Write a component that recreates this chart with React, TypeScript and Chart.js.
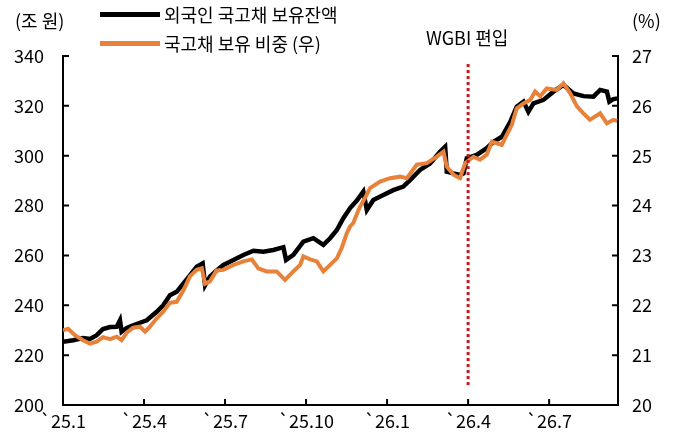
import { useEffect, useRef } from "react";
import { Chart, registerables } from "chart.js";

Chart.register(...registerables);

// x positions are months since Jan 2025 (0 = `25.1)
const tickMonths = [0, 3, 6, 9, 12, 15, 18];
const tickLabels = ["`25.1", "`25.4", "`25.7", "`25.10", "`26.1", "`26.4", "`26.7"];

const holdingMonths = [
  0, 0.38, 0.74, 1.0, 1.25, 1.48, 1.74, 1.99, 2.11, 2.17, 2.36, 2.6, 2.85, 3.1, 3.47, 3.71, 3.96,
  4.21, 4.46, 4.7, 4.95, 5.17, 5.26, 5.44, 5.69, 5.94, 6.31, 6.68, 7.05, 7.42, 7.79, 8.16, 8.26,
  8.53, 8.9, 9.27, 9.64, 9.89, 10.14, 10.38, 10.63, 10.88, 11.12, 11.25, 11.49, 11.86, 12.23,
  12.6, 12.85, 13.22, 13.59, 13.96, 14.15, 14.21, 14.46, 14.7, 14.83, 14.95, 15.32, 15.69, 15.94,
  16.25, 16.56, 16.8, 17.05, 17.23, 17.42, 17.79, 18.16, 18.53, 18.9, 19.27, 19.64, 19.89, 20.14,
  20.23, 20.36, 20.52,
];
// 외국인 국고채 보유잔액 (조 원)
const holdingValues = [
  225.4, 226, 226.9, 226.5, 228, 230.5, 231.3, 231.4, 234, 229.4, 230.9, 232, 233, 234, 237.4, 240,
  244, 245.4, 248.8, 252, 255.5, 256.8, 248, 251.5, 254, 256.2, 258.2, 260.2, 261.9, 261.5, 262.2,
  263.3, 258.2, 260.2, 265.5, 266.9, 264.2, 266.9, 270.2, 274.9, 279, 282, 285.6, 278.2, 282.2,
  284.2, 286.2, 287.6, 290.2, 294.3, 296.9, 301.6, 303.6, 293.6, 292.9, 292.3, 292.9, 299, 300.3,
  303, 305.6, 307.6, 313.6, 319.7, 321.7, 317.6, 321, 322.4, 325.7, 328.4, 325, 323.9, 323.7, 326.4,
  325.7, 321.7, 322.6, 323,
];

const shareMonths = [
  0, 0.19, 0.44, 0.74, 1.0, 1.25, 1.48, 1.74, 1.99, 2.17, 2.36, 2.6, 2.85, 3.04, 3.22, 3.47, 3.71,
  3.96, 4.21, 4.46, 4.7, 4.95, 5.14, 5.26, 5.44, 5.69, 5.94, 6.31, 6.68, 6.99, 7.23, 7.54, 7.91,
  8.22, 8.53, 8.78, 8.9, 9.15, 9.4, 9.64, 9.89, 10.14, 10.32, 10.51, 10.63, 10.75, 10.94, 11.0,
  11.18, 11.37, 11.74, 12.11, 12.48, 12.73, 13.1, 13.47, 13.84, 14.09, 14.21, 14.46, 14.7, 14.89,
  15.2, 15.44, 15.69, 15.88, 16.06, 16.25, 16.43, 16.62, 16.8, 17.05, 17.3, 17.48, 17.67, 17.91,
  18.28, 18.53, 18.78, 19.03, 19.27, 19.51, 19.89, 20.14, 20.38, 20.52,
];
// 국고채 보유 비중 (%, 우)
const shareValues = [
  21.5, 21.53, 21.4, 21.3, 21.23, 21.27, 21.36, 21.32, 21.37, 21.3, 21.45, 21.55, 21.57, 21.47,
  21.57, 21.74, 21.87, 22.05, 22.07, 22.3, 22.58, 22.71, 22.74, 22.43, 22.48, 22.7, 22.71, 22.81,
  22.88, 22.92, 22.74, 22.68, 22.68, 22.51, 22.68, 22.81, 22.98, 22.92, 22.88, 22.68, 22.81, 22.94,
  23.15, 23.45, 23.58, 23.65, 23.91, 23.98, 24.15, 24.35, 24.48, 24.55, 24.58, 24.55, 24.82, 24.85,
  24.98, 25.08, 24.78, 24.62, 24.55, 24.85, 24.98, 24.92, 25.02, 25.28, 25.25, 25.22, 25.42, 25.62,
  25.95, 26.05, 26.12, 26.29, 26.19, 26.35, 26.32, 26.45, 26.25, 25.99, 25.85, 25.72, 25.85, 25.65,
  25.72, 25.7,
];

// WGBI 편입 marker (month, left-axis span)
const wgbiMonth = 15;
const wgbiSpan = [208, 337.5];

const FONT = "'Noto Sans CJK KR', 'Noto Sans', sans-serif";

const inwardTicks = {
  id: "inwardTicks",
  afterDraw(chart: any) {
    const { ctx, chartArea, scales } = chart;
    const len = 6;
    ctx.save();
    ctx.strokeStyle = "#000";
    ctx.lineWidth = 2;
    ctx.beginPath();
    scales.x.ticks.forEach((t: any) => {
      const px = scales.x.getPixelForValue(t.value);
      ctx.moveTo(px, chartArea.bottom);
      ctx.lineTo(px, chartArea.bottom - len);
    });
    scales.y.ticks.forEach((t: any) => {
      const py = scales.y.getPixelForValue(t.value);
      ctx.moveTo(chartArea.left, py);
      ctx.lineTo(chartArea.left + len, py);
    });
    scales.y1.ticks.forEach((t: any) => {
      const py = scales.y1.getPixelForValue(t.value);
      ctx.moveTo(chartArea.right, py);
      ctx.lineTo(chartArea.right - len, py);
    });
    ctx.stroke();
    ctx.restore();
  },
};

export default function App() {
  const canvasRef = useRef<HTMLCanvasElement>(null);
  const chartRef = useRef<Chart | null>(null);

  useEffect(() => {
    if (!canvasRef.current) return;
    const ctx = canvasRef.current.getContext("2d");
    if (!ctx) return;

    const tickFont = { family: FONT, size: 18 };

    chartRef.current?.destroy();
    chartRef.current = new Chart(ctx, {
      type: "line",
      data: {
        datasets: [
          {
            label: "WGBI 편입",
            data: wgbiSpan.map((v) => ({ x: wgbiMonth, y: v })),
            borderColor: "#c8161e",
            borderWidth: 3,
            borderDash: [3, 3],
            pointRadius: 0,
            yAxisID: "y",
            order: 0,
          },
          {
            label: "외국인 국고채 보유잔액",
            data: holdingMonths.map((m, i) => ({ x: m, y: holdingValues[i] })),
            borderColor: "#000000",
            borderWidth: 4.5,
            pointRadius: 0,
            tension: 0,
            yAxisID: "y",
            order: 2,
          },
          {
            label: "국고채 보유 비중 (우)",
            data: shareMonths.map((m, i) => ({ x: m, y: shareValues[i] })),
            borderColor: "#e8823a",
            borderWidth: 4,
            pointRadius: 0,
            tension: 0,
            yAxisID: "y1",
            order: 1,
          },
        ],
      },
      options: {
        responsive: false,
        animation: false,
        layout: { padding: { top: 56, right: 0, left: 0, bottom: 0 } },
        plugins: { legend: { display: false }, tooltip: { enabled: false } },
        scales: {
          x: {
            type: "linear",
            min: 0,
            max: 20.55,
            grid: { display: false, drawTicks: false },
            border: { display: true, color: "#000", width: 2 },
            afterBuildTicks: (scale: any) => {
              scale.ticks = tickMonths.map((v) => ({ value: v }));
            },
            afterFit: (scale: any) => {
              scale.height = 43;
            },
            ticks: {
              font: tickFont,
              color: "#000",
              padding: 5,
              maxRotation: 0,
              autoSkip: false,
              callback: (v: any) => tickLabels[tickMonths.indexOf(Number(v))] ?? "",
            },
          },
          y: {
            position: "left",
            min: 200,
            max: 340,
            grid: { display: false, drawTicks: false },
            border: { display: true, color: "#000", width: 2 },
            afterFit: (scale: any) => {
              scale.width = 63;
            },
            ticks: { stepSize: 20, font: tickFont, color: "#000", padding: 19 },
          },
          y1: {
            position: "right",
            min: 20,
            max: 27,
            grid: { display: false, drawTicks: false },
            border: { display: true, color: "#000", width: 2 },
            afterFit: (scale: any) => {
              scale.width = 58;
            },
            ticks: { stepSize: 1, font: tickFont, color: "#000", padding: 14 },
          },
        },
      },
      plugins: [inwardTicks],
    });

    return () => chartRef.current?.destroy();
  }, []);

  const text = { position: "absolute" as const, fontFamily: FONT, fontSize: 18, lineHeight: "20px", color: "#000", whiteSpace: "nowrap" as const };

  return (
    <div style={{ position: "absolute", left: 0, top: 0, width: 676, height: 448, background: "#fff" }}>
      <canvas ref={canvasRef} width={676} height={448} />
      <span style={{ ...text, left: 15, top: 10 }}>(조 원)</span>
      <span style={{ ...text, left: 632, top: 10 }}>(%)</span>
      <div style={{ position: "absolute", left: 100, top: 12, width: 60, height: 5, background: "#000" }} />
      <span style={{ ...text, left: 164, top: 4 }}>외국인 국고채 보유잔액</span>
      <div style={{ position: "absolute", left: 100, top: 41, width: 60, height: 5, background: "#e8823a" }} />
      <span style={{ ...text, left: 164, top: 33 }}>국고채 보유 비중 (우)</span>
      <span style={{ ...text, left: 426, top: 27 }}>WGBI 편입</span>
    </div>
  );
}
